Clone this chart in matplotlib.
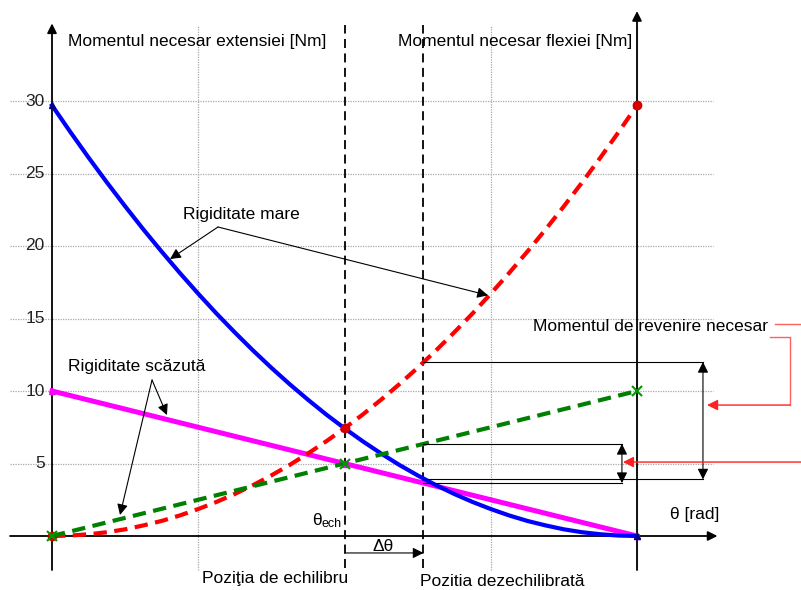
import matplotlib
matplotlib.use("Agg")
import matplotlib.pyplot as plt

plt.rcParams['font.family'] = ['Liberation Sans', 'DejaVu Sans']

# ---- data ----
theta = [0.0, 0.125, 0.25, 0.375, 0.5, 0.625, 0.75, 0.875, 1.0,
         1.125, 1.25, 1.375, 1.5, 1.625, 1.75, 1.875, 2.0,
         2.125, 2.25, 2.375, 2.5, 2.625, 2.75, 2.875, 3.0,
         3.125, 3.25, 3.375, 3.5, 3.625, 3.75, 3.875, 4.0]
ext_mare = [29.70, 27.87, 26.10, 24.39, 22.74, 21.14, 19.61, 18.13, 16.71,
            15.34, 14.04, 12.79, 11.60, 10.47, 9.40, 8.38, 7.43,
            6.53, 5.69, 4.90, 4.18, 3.51, 2.90, 2.35, 1.86,
            1.42, 1.04, 0.73, 0.46, 0.26, 0.12, 0.03, 0.0]      # blue
flex_mare = [0.0, 0.03, 0.12, 0.26, 0.46, 0.73, 1.04, 1.42, 1.86,
             2.35, 2.90, 3.51, 4.18, 4.90, 5.69, 6.53, 7.43,
             8.38, 9.40, 10.47, 11.60, 12.79, 14.04, 15.34, 16.71,
             18.13, 19.61, 21.14, 22.74, 24.39, 26.10, 27.87, 29.70]  # red dashed
theta_lin = [0.0, 2.0, 4.0]
ext_mica = [10.0, 5.0, 0.0]     # magenta
flex_mica = [0.0, 5.0, 10.0]    # green dashed
y_ticks = [5, 10, 15, 20, 25, 30]
theta_ech = 2.0
theta_dez = 2.54
val_red_dez = 12.0
val_blue_dez = 3.9
val_green_dez = 6.35
val_mag_dez = 3.65

W, H = 801, 590
fig = plt.figure(figsize=(W / 100, H / 100), dpi=100)
ax = fig.add_axes([0, 0, 1, 1])
ax.set_axis_off()
sx, sy = 146.25, 14.5
x0, y0 = 52, 536
ax.set_xlim((0 - x0) / sx, (W - x0) / sx)
ax.set_ylim((y0 - H) / sy, y0 / sy)

grid_kw = dict(color='#a8a8a8', lw=0.9, ls=(0, (1, 1)), zorder=1)
for v in y_ticks:
    ax.plot([-0.287, 4.52], [v, v], **grid_kw)
    ax.text(-0.05, v, str(v), ha='right', va='center', fontsize=12.5, color='#222222')
for v in [1, 3, 4]:
    ax.plot([v, v], [-2.345, 35.25], **grid_kw)

# axes with arrows
arr = dict(arrowstyle='-|>', color='black', lw=1.3, mutation_scale=14, shrinkA=0, shrinkB=0)
ax.annotate('', xy=(0, 35.35), xytext=(0, -2.345), arrowprops=arr, zorder=3)
ax.annotate('', xy=(4, 36.2), xytext=(4, -2.345), arrowprops=arr, zorder=3)
ax.annotate('', xy=(4.55, 0), xytext=(-0.287, 0), arrowprops=arr, zorder=3)

# dashed vertical lines
for v in [theta_ech, theta_dez]:
    ax.plot([v, v], [-2.2, 35.25], color='black', lw=1.3, ls=(0, (5, 3)), zorder=2)

# curves
ax.plot(theta, ext_mare, color='#0000ff', lw=3.0, zorder=5,
        marker='^', markevery=[0, 16, 32], ms=5, mfc='#000080', mec='#000080')
ax.plot(theta, flex_mare, color='#ff0000', lw=3.0, ls=(0, (3.2, 1.8)), zorder=5,
        marker='o', markevery=[0, 16, 32], ms=6, mfc='#dd0000', mec='#cc0000')
ax.plot(theta_lin, ext_mica, color='#ff00ff', lw=3.6, zorder=4,
        marker='^', ms=5, mfc='#ff00ff', mec='#ff00ff')
ax.plot(theta_lin, flex_mica, color='#008000', lw=3.0, ls=(0, (3.2, 1.8)), zorder=5,
        marker='x', ms=7, mew=1.5, mec='#009900')

fs = 12.5
ax.text(0.109, 34.07, 'Momentul necesar extensiei [Nm]', fontsize=fs, va='center', ha='left')
ax.text(2.366, 34.07, 'Momentul necesar flexiei [Nm]', fontsize=fs, va='center', ha='left')

thin = dict(arrowstyle='-|>', color='black', lw=0.8, mutation_scale=16, shrinkA=0, shrinkB=0)
ax.text(0.896, 22.14, 'Rigiditate mare', fontsize=fs, va='center', ha='left')
ax.annotate('', xy=(0.807, 19.10), xytext=(1.135, 21.31), arrowprops=thin, zorder=6)
ax.annotate('', xy=(2.981, 16.60), xytext=(1.135, 21.31), arrowprops=thin, zorder=6)

ax.text(0.109, 11.66, 'Rigiditate scăzută', fontsize=fs, va='center', ha='left')
ax.annotate('', xy=(0.786, 8.34), xytext=(0.684, 10.76), arrowprops=thin, zorder=6)
ax.annotate('', xy=(0.465, 1.45), xytext=(0.684, 10.76), arrowprops=thin, zorder=6)

# brackets
bx_big, bx_small = 4.451, 3.897
ax.plot([theta_dez, bx_big], [val_red_dez, val_red_dez], color='black', lw=0.8, zorder=6)
ax.plot([theta_dez, bx_big], [val_blue_dez, val_blue_dez], color='black', lw=0.8, zorder=6)
ax.plot([theta_dez, bx_small], [val_green_dez, val_green_dez], color='black', lw=0.8, zorder=6)
ax.plot([theta_dez, bx_small], [val_mag_dez, val_mag_dez], color='black', lw=0.8, zorder=6)
dbl = dict(arrowstyle='<|-|>', color='black', lw=0.8, mutation_scale=16, shrinkA=0, shrinkB=0)
ax.annotate('', xy=(bx_big, val_red_dez), xytext=(bx_big, val_blue_dez), arrowprops=dbl, zorder=6)
ax.annotate('', xy=(bx_small, val_green_dez), xytext=(bx_small, val_mag_dez), arrowprops=dbl, zorder=6)

ax.text(3.289, 14.48, 'Momentul de revenire necesar', fontsize=fs, va='center', ha='left')
rc = '#ff6060'
ax.plot([4.944, 5.2], [14.62, 14.62], color=rc, lw=1.0, clip_on=False)
ax.plot([4.909, 5.046, 5.046], [13.72, 13.72, 9.03], color=rc, lw=1.0)
red_arr = dict(arrowstyle='-|>', color='#ff2020', lw=1.0, mutation_scale=16, shrinkA=0, shrinkB=0)
ax.annotate('', xy=(4.479, 9.03), xytext=(5.046, 9.03), arrowprops=red_arr, zorder=6)
ax.annotate('', xy=(3.904, 5.10), xytext=(5.2, 5.10), arrowprops=red_arr, zorder=6)

# bottom labels
ax.text(1.778, 1.10, 'θ', fontsize=fs, va='center', ha='left')
ax.text(1.845, 0.80, 'ech', fontsize=9, va='center', ha='left')
ax.text(2.263, -0.69, 'Δθ', fontsize=fs, va='center', ha='center')
ax.annotate('', xy=(theta_dez, -1.17), xytext=(theta_ech, -1.17), arrowprops=thin, zorder=6)
ax.text(1.525, -2.90, 'Poziţia de echilibru', fontsize=fs, va='center', ha='center')
ax.text(2.516, -3.17, 'Pozitia dezechilibrată', fontsize=fs, va='center', ha='left')
ax.text(4.226, 1.45, 'θ [rad]', fontsize=fs, va='center', ha='left')

fig.savefig('out.png', dpi=100)
